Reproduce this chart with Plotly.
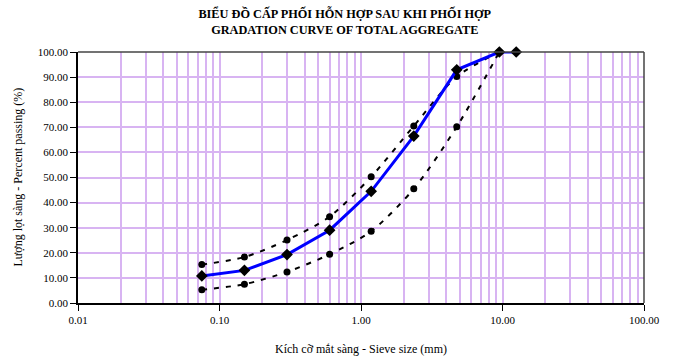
import plotly.graph_objects as go

sieve = [0.075, 0.15, 0.3, 0.6, 1.18, 2.36, 4.75, 9.5, 12.5]
combined = [10.8, 13.0, 19.3, 29.0, 44.5, 66.5, 92.9, 100.0, 100.0]
limit_sieve = [0.075, 0.15, 0.3, 0.6, 1.18, 2.36, 4.75, 9.5]
upper = [15.3, 18.3, 25.1, 34.4, 50.3, 70.5, 90.2, 100.0]
lower = [5.3, 7.5, 12.4, 19.4, 28.6, 45.5, 70.2, 100.0]

x_tick_vals = [0.01, 0.1, 1, 10, 100]
x_tick_text = ["0.01", "0.10", "1.00", "10.00", "100.00"]
y_tick_vals = list(range(0, 101, 10))
y_tick_text = [f"{v:.2f}" for v in y_tick_vals]

minor_vals = [m * 10 ** e for e in range(-2, 2) for m in range(1, 10)] + [100]

grid_col = "#D8B4F2"
font_family = "Liberation Serif, Times New Roman, serif"

fig = go.Figure()
for vals in (upper, lower):
    fig.add_trace(go.Scatter(
        x=limit_sieve, y=vals, mode="lines+markers",
        line=dict(color="black", width=2, dash="5px,7px", shape="spline", smoothing=0.8),
        marker=dict(symbol="circle", size=7, color="black"),
        showlegend=False, cliponaxis=False))
fig.add_trace(go.Scatter(
    x=sieve, y=combined, mode="lines+markers",
    line=dict(color="#0000FF", width=3),
    marker=dict(symbol="diamond", size=9, color="black"),
    showlegend=False, cliponaxis=False))

fig.update_layout(
    width=680, height=361,
    margin=dict(l=78, r=36, t=52, b=58, autoexpand=False),
    paper_bgcolor="white", plot_bgcolor="white",
    font=dict(family=font_family, size=11, color="black"),
    title=dict(
        text="<b>BIỂU ĐỒ CẤP PHỐI HỖN HỢP SAU KHI PHỐI HỢP<br>GRADATION CURVE OF TOTAL AGGREGATE</b>",
        x=0.507, xanchor="center", xref="container",
        y=0.951, yanchor="middle", yref="container",
        font=dict(family=font_family, size=12.3, color="black")),
    xaxis=dict(
        type="log", range=[-2, 2], automargin=False,
        tickvals=x_tick_vals, ticktext=x_tick_text,
        ticks="outside", ticklen=6, tickcolor="black",
        showgrid=False, zeroline=False,
        showline=True, linecolor="black", linewidth=1.5, mirror=False,
        minor=dict(tickvals=minor_vals, showgrid=True, gridcolor=grid_col, gridwidth=1.5, ticks=""),
        title=dict(text="Kích cỡ mắt sàng - Sieve size (mm)", standoff=20,
                   font=dict(family=font_family, size=12)),
        tickfont=dict(size=11)),
    yaxis=dict(
        range=[0, 100], tickvals=y_tick_vals, ticktext=y_tick_text, automargin=False,
        ticks="outside", ticklen=6, tickcolor="black",
        showgrid=True, gridcolor=grid_col, gridwidth=1.5, zeroline=False,
        showline=True, linecolor="black", linewidth=1.5,
        tickfont=dict(size=11)),
    annotations=[
        dict(text="Lượng lọt sàng - Percent passing (%)", textangle=-90,
             xref="paper", yref="paper", x=-(78 - 17) / 566, y=0.5,
             xanchor="center", yanchor="middle", showarrow=False,
             font=dict(family=font_family, size=12)),
    ],
    shapes=[
        dict(type="line", xref="paper", yref="paper", x0=0, x1=1, y0=1, y1=1,
             line=dict(color="#444444", width=1.5)),
        dict(type="line", xref="paper", yref="paper", x0=1, x1=1, y0=0, y1=1,
             line=dict(color="#444444", width=1.5)),
    ],
)

fig.write_html("out.html", config={"displayModeBar": False},
               post_script="document.body.style.margin='0';document.body.style.overflow='hidden';")
